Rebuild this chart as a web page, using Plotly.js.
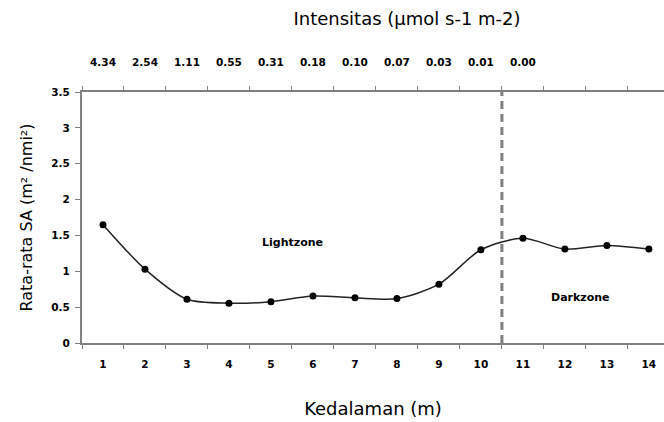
<!DOCTYPE html>
<html>
<head>
<meta charset="utf-8">
<script src="https://cdn.plot.ly/plotly-3.0.1.min.js"></script>
<style>html,body{margin:0;padding:0;background:#fff;}#chart{width:664px;height:422px;}</style>
</head>
<body>
<div id="chart"></div>
<script>
// Data
const depth = [1, 2, 3, 4, 5, 6, 7, 8, 9, 10, 11, 12, 13, 14];
const meanSA = [1.65, 1.03, 0.61, 0.555, 0.575, 0.655, 0.63, 0.62, 0.82, 1.30, 1.46, 1.31, 1.36, 1.31];
const intensityPos = [1, 2, 3, 4, 5, 6, 7, 8, 9, 10, 11];
const intensityLabels = ["4.34", "2.54", "1.11", "0.55", "0.31", "0.18", "0.10", "0.07", "0.03", "0.01", "0.00"];
const boundary = 10.5;
const yTicks = [0, 0.5, 1, 1.5, 2, 2.5, 3, 3.5];
const yTickText = ["0", "0.5", "1", "1.5", "2", "2.5", "3", "3.5"];

const FONT = "DejaVu Sans, Verdana, sans-serif";
const TICKFONT = {family: FONT, size: 10.5, color: "#000", weight: "bold"};

const traces = [
  {
    x: depth, y: meanSA, type: "scatter", mode: "lines+markers",
    line: {shape: "spline", smoothing: 0.8, color: "#222", width: 1.5},
    marker: {color: "#000", size: 7},
    hoverinfo: "x+y", showlegend: false
  },
  {
    x: intensityPos, y: intensityPos.map(() => null), xaxis: "x2", yaxis: "y",
    type: "scatter", mode: "none", showlegend: false, hoverinfo: "skip"
  }
];

const xRange = [0.5, 14.36];

const layout = {
  width: 664, height: 422,
  margin: {l: 82, r: 0, t: 92, b: 79, pad: 0},
  paper_bgcolor: "#fff", plot_bgcolor: "#fff",
  font: {family: FONT, size: 11, color: "#000"},
  showlegend: false,
  title: {
    text: "Intensitas (µmol s-1 m-2)",
    font: {family: FONT, size: 18, color: "#000"},
    xref: "container", x: 0.613, xanchor: "center",
    yref: "container", y: 0.955, yanchor: "middle"
  },
  xaxis: {
    range: xRange, tickmode: "array", tickvals: depth, ticktext: depth.map(String),
    ticks: "", showgrid: false, zeroline: false,
    showline: true, linecolor: "#808080", linewidth: 2,
    ticklabelstandoff: 10,
    tickfont: TICKFONT,
    minor: {tick0: 0.5, dtick: 1, ticks: "outside", ticklen: 4, tickcolor: "#808080", tickwidth: 1, showgrid: false},
    title: {text: "Kedalaman (m)", font: {family: FONT, size: 18, color: "#000"}, standoff: 34},
    fixedrange: true
  },
  xaxis2: {
    overlaying: "x", side: "top", anchor: "y",
    range: xRange, tickmode: "array", tickvals: intensityPos, ticktext: intensityLabels,
    ticks: "", showgrid: false, zeroline: false,
    showline: true, linecolor: "#808080", linewidth: 2,
    ticklabelstandoff: 20,
    tickfont: TICKFONT,
    minor: {tick0: 0.5, dtick: 1, ticks: "outside", ticklen: 4, tickcolor: "#808080", tickwidth: 1, showgrid: false},
    fixedrange: true
  },
  yaxis: {
    range: [0, 3.5], tickmode: "array", tickvals: yTicks, ticktext: yTickText,
    ticks: "outside", ticklen: 5, tickcolor: "#808080", tickwidth: 1,
    showgrid: false, zeroline: false,
    showline: true, linecolor: "#808080", linewidth: 2,
    ticklabelstandoff: 3,
    tickfont: TICKFONT,
    title: {text: "Rata-rata SA (m² /nmi²)", font: {family: FONT, size: 16, color: "#000"}, standoff: 15},
    fixedrange: true
  },
  shapes: [
    {type: "line", xref: "x", yref: "y", x0: boundary, x1: boundary, y0: 0, y1: 3.5,
     line: {color: "#808080", width: 3, dash: "8px,5px"}}
  ],
  annotations: [
    {x: 5.52, y: 1.40, xref: "x", yref: "y", text: "Lightzone", showarrow: false,
     font: {family: FONT, size: 11, color: "#000", weight: "bold"}},
    {x: 12.36, y: 0.64, xref: "x", yref: "y", text: "Darkzone", showarrow: false,
     font: {family: FONT, size: 11, color: "#000", weight: "bold"}}
  ]
};

Plotly.newPlot("chart", traces, layout, {displayModeBar: false, staticPlot: true});
</script>
</body>
</html>
